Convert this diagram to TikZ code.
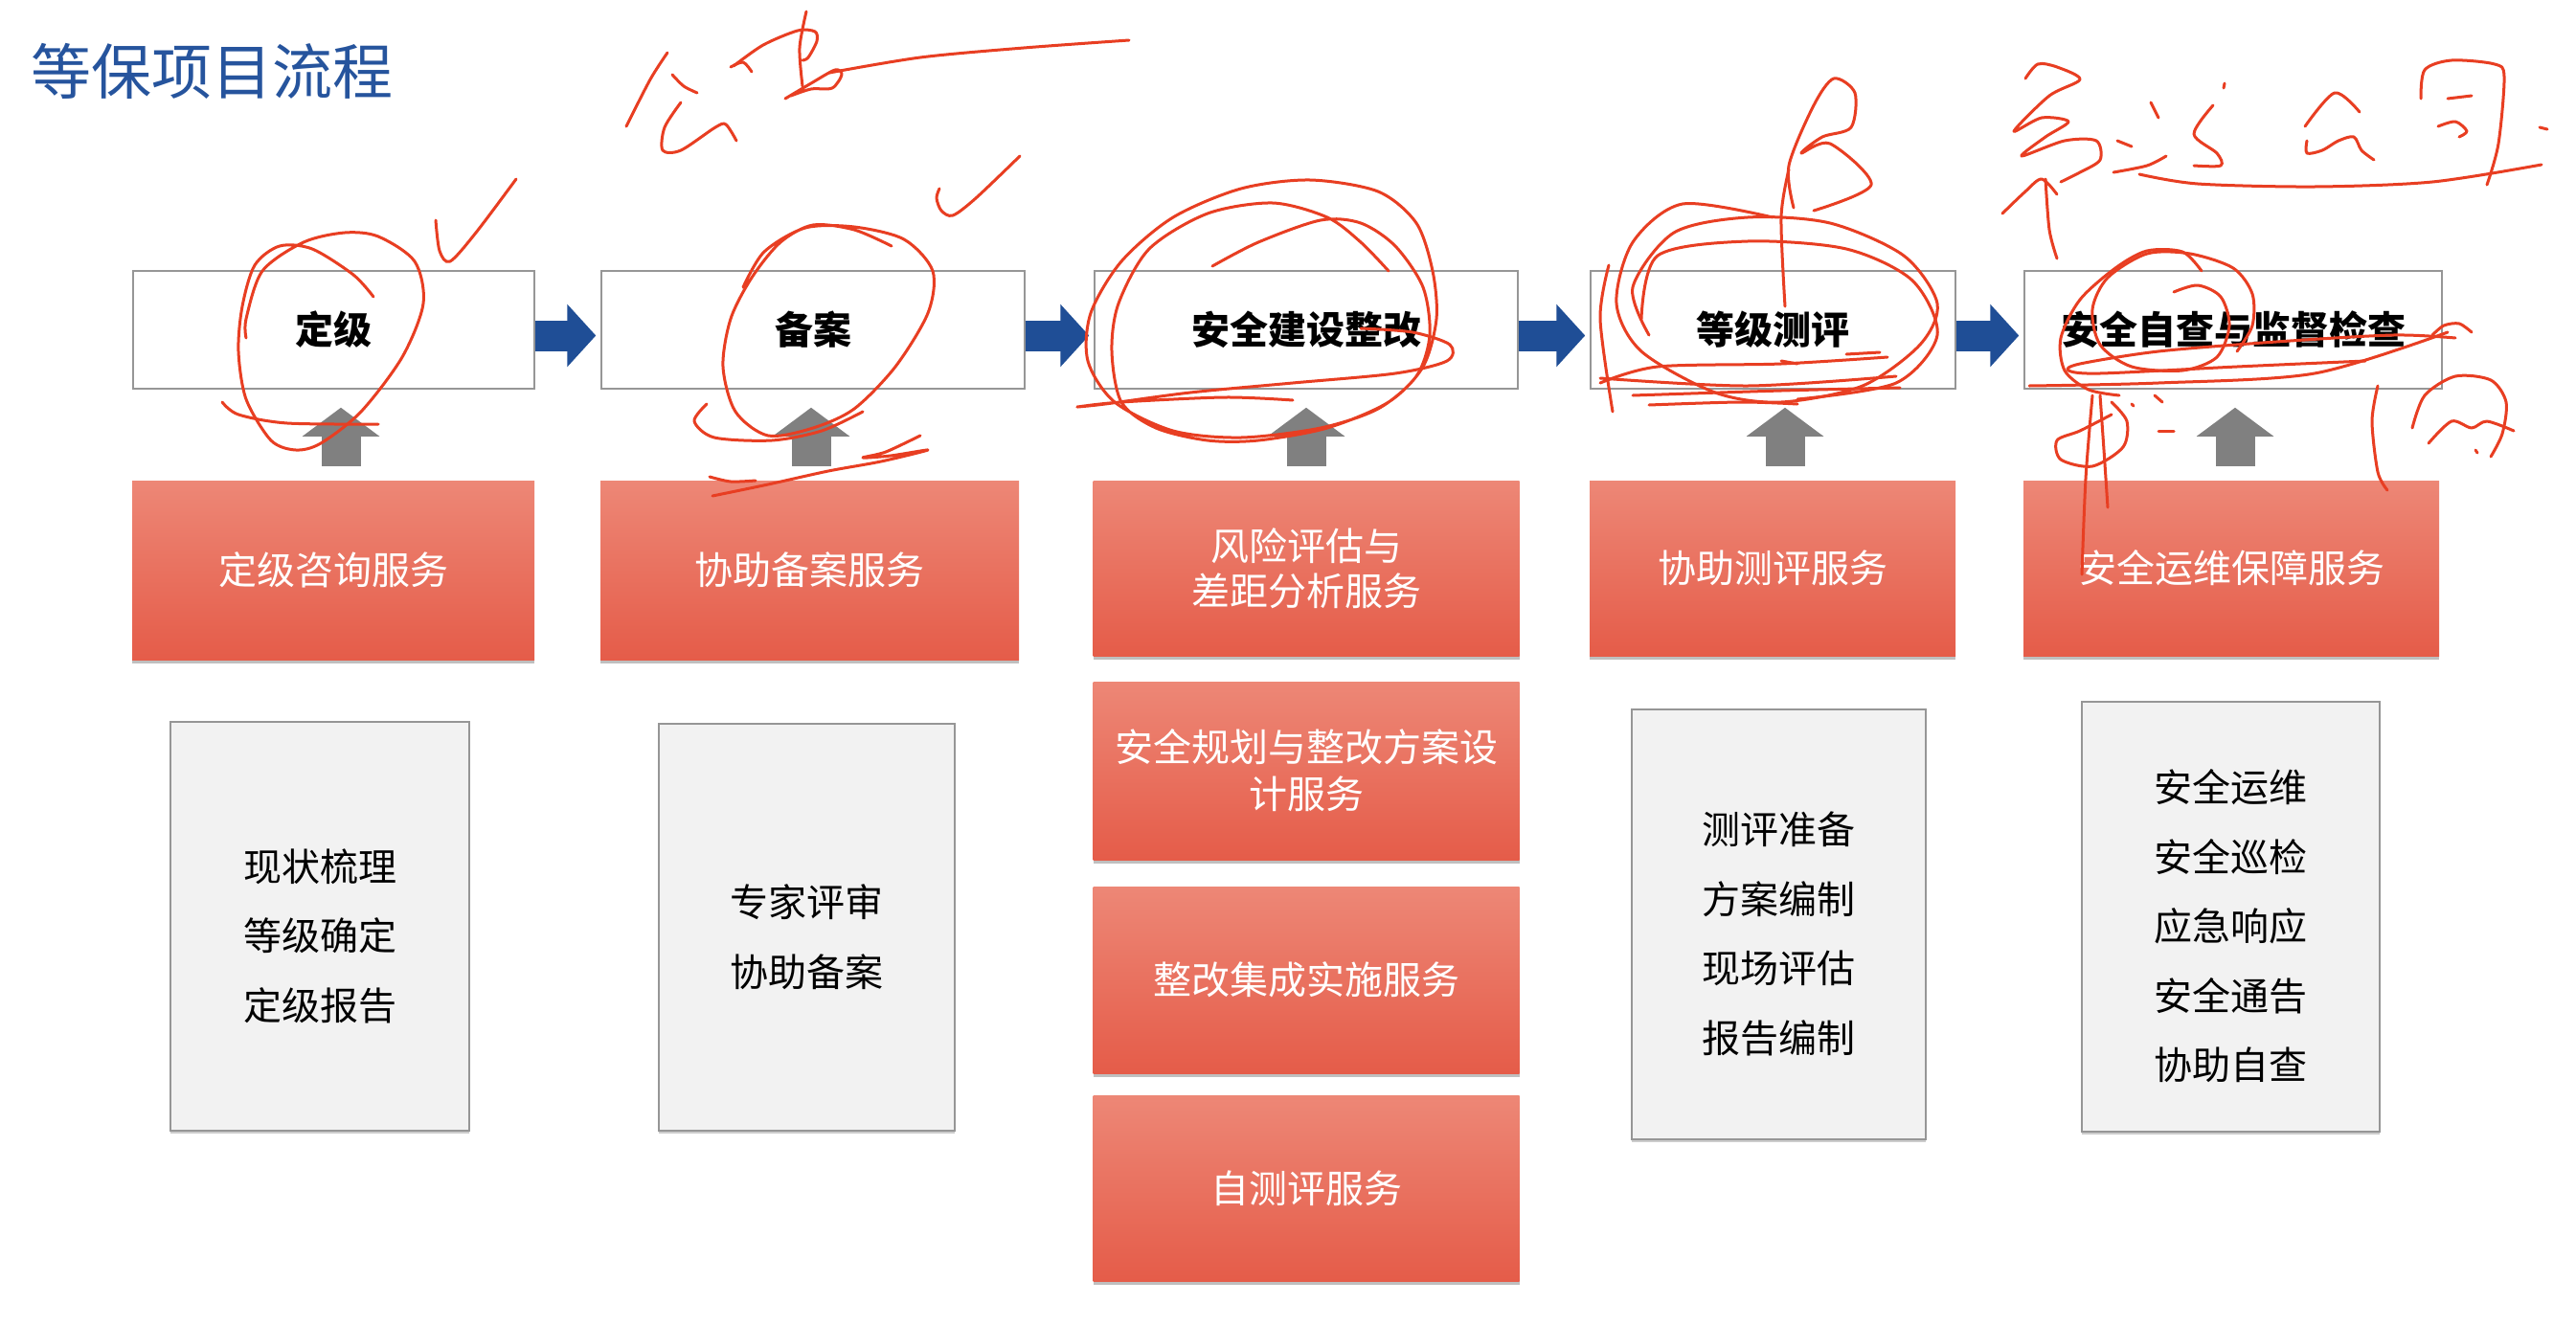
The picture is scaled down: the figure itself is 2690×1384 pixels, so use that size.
\documentclass[tikz,border=0pt]{standalone}
\usepackage{fontspec}
\newfontfamily\cjk{Noto Sans CJK SC}
\usetikzlibrary{arrows.meta,shadows}

\definecolor{titleblue}{RGB}{38,84,157}
\definecolor{flowblue}{RGB}{31,78,150}
\definecolor{upgray}{RGB}{128,128,128}
\definecolor{redtop}{RGB}{237,135,118}
\definecolor{redbot}{RGB}{229,92,73}
\definecolor{paleg}{RGB}{242,242,242}
\definecolor{edgeg}{RGB}{150,150,150}
\definecolor{inkred}{RGB}{232,62,34}

% strut that lowers a centred list a little inside its box
\newcommand{\listlead}{\rule{0pt}{54pt}}

\begin{document}
\begin{tikzpicture}[x=1pt,y=-1pt,
  titletext/.style={text=titleblue, font=\cjk\fontsize{63}{70}\selectfont, inner sep=0pt},
  stagebox/.style={draw=edgeg, line width=1.5pt, fill=white, inner sep=0pt,
    font=\cjk\bfseries\fontsize{40}{48}\selectfont},
  svcbox/.style={top color=redtop, bottom color=redbot, draw=none, text=white,
    align=center, inner sep=0pt, font=\cjk\fontsize{40}{48}\selectfont,
    drop shadow={shadow xshift=0pt, shadow yshift=-4pt, opacity=0.25, fill=black}},
  detailbox/.style={draw=edgeg, line width=1.5pt, fill=paleg, align=center, inner sep=0pt,
    font=\cjk\fontsize{40}{72.5}\selectfont,
    drop shadow={shadow xshift=0pt, shadow yshift=-3pt, opacity=0.2, fill=black}},
  flow/.style={draw=flowblue, line width=32pt, shorten >=5pt,
    -{Triangle[length=30pt,width=64pt]}},
  lift/.style={draw=upgray, line width=41pt, shorten <=15pt, shorten >=19pt,
    -{Triangle[length=30pt,width=79pt]}},
  ink/.style={draw=inkred, line width=3pt, line cap=round, line join=round}
]
\fill[white] (0,0) rectangle (2690,1384);
\useasboundingbox (0,0) rectangle (2690,1384);

% heading
\node[titletext, anchor=west] (title) at (32,74) {等保项目流程};

% stage row
\node[stagebox, minimum width=419pt, minimum height=123pt] (t1) at (348.5,344.5) {定级};
\node[stagebox, minimum width=442pt, minimum height=123pt] (t2) at (849,344.5) {备案};
\node[stagebox, minimum width=442pt, minimum height=123pt] (t3) at (1364,344.5) {安全建设整改};
\node[stagebox, minimum width=381pt, minimum height=123pt] (t4) at (1851.5,344.5) {等级测评};
\node[stagebox, minimum width=436pt, minimum height=123pt] (t5) at (2332,344.5) {安全自查与监督检查};

% flow arrows between stages
\draw[flow] ([yshift=-6pt]t1.east) -- ([yshift=-6pt]t2.west);
\draw[flow] ([yshift=-6pt]t2.east) -- ([yshift=-6pt]t3.west);
\draw[flow] ([yshift=-6pt]t3.east) -- ([yshift=-6pt]t4.west);
\draw[flow] ([yshift=-6pt]t4.east) -- ([yshift=-6pt]t5.west);

% service row
\node[svcbox, minimum width=420pt, minimum height=187pt] (r1) at (348,595.5) {定级咨询服务};
\node[svcbox, minimum width=437pt, minimum height=187pt] (r2) at (845.5,595.5) {协助备案服务};
\node[svcbox, minimum width=445pt, minimum height=183pt, font=\cjk\fontsize{40}{47}\selectfont] (r3) at (1364,593.5) {风险评估与\\差距分析服务};
\node[svcbox, minimum width=382pt, minimum height=183pt] (r4) at (1851,593.5) {协助测评服务};
\node[svcbox, minimum width=434pt, minimum height=183pt] (r5) at (2330,593.5) {安全运维保障服务};
\node[svcbox, minimum width=445pt, minimum height=186pt, font=\cjk\fontsize{40}{49}\selectfont] (r6) at (1364,805) {安全规划与整改方案设\\计服务};
\node[svcbox, minimum width=445pt, minimum height=195pt] (r7) at (1364,1023.5) {整改集成实施服务};
\node[svcbox, minimum width=445pt, minimum height=194pt] (r8) at (1364,1241) {自测评服务};

% lift arrows from services to stages
\draw[lift] ([xshift=8pt]r1.north) -- ([xshift=8pt]r1.north |- t1.south);
\draw[lift] ([xshift=1.5pt]r2.north) -- ([xshift=1.5pt]r2.north |- t2.south);
\draw[lift] (r3.north) -- (r3.north |- t3.south);
\draw[lift] ([xshift=13pt]r4.north) -- ([xshift=13pt]r4.north |- t4.south);
\draw[lift] ([xshift=4pt]r5.north) -- ([xshift=4pt]r5.north |- t5.south);

% detail lists
\node[detailbox, minimum width=312pt, minimum height=427pt] (g1) at (334,967.5) {\listlead 现状梳理\\等级确定\\定级报告};
\node[detailbox, minimum width=309pt, minimum height=425pt] (g2) at (842.5,968.5) {\listlead 专家评审\\协助备案};
\node[detailbox, minimum width=307pt, minimum height=449pt] (g3) at (1857.5,965.5) {\listlead 测评准备\\方案编制\\现场评估\\报告编制};
\node[detailbox, minimum width=311pt, minimum height=449pt] (g4) at (2329.5,957.5) {\listlead 安全运维\\安全巡检\\应急响应\\安全通告\\协助自查};

% ---- red pen marks ----
% ticks
\draw[ink] plot[smooth] coordinates {(455,230) (459,262) (470,273) (497,243) (539,187)};
\draw[ink] plot[smooth] coordinates {(981,197) (978,207) (983,220) (995,225) (1019,207) (1065,163)};

% ring round the first stage
\draw[ink] plot[smooth] coordinates {(390,310) (369,287) (326,260) (292,257) (266,277) (253,320) (249,367) (257,417) (283,460) (309,470) (335,463) (377,430) (420,373) (442,317) (433,273) (395,247) (360,243) (317,253) (274,283) (257,333) (257,353)};
\draw[ink] plot[smooth] coordinates {(232,420) (249,433) (300,442) (395,443)};

% ring round the second stage
\draw[ink] plot[smooth] coordinates {(931,257) (892,240) (849,235) (815,253) (785,290) (763,333) (755,383) (768,430) (802,455) (849,447) (892,427) (935,383) (969,327) (974,283) (944,250) (892,237) (841,238) (798,263) (776,300)};
\draw[ink] plot[smooth] coordinates {(738,422) (725,440) (746,457) (806,460) (858,450) (901,430)};
\draw[ink] plot[smooth] coordinates {(961,455) (925,472) (901,478) (930,476) (969,470) (920,482) (865,492) (802,506) (744,518)};
\draw[ink] plot[smooth] coordinates {(741,498) (763,503) (789,502)};

% handwriting near the top
\draw[ink] plot[smooth] coordinates {(697,55) (679,83) (654,132)};
\draw[ink] plot[smooth] coordinates {(702,78) (714,90) (728,97)};
\draw[ink] plot[smooth] coordinates {(711,107) (694,133) (692,157) (711,157) (747,133) (758,130) (769,147)};
\draw[ink] plot[smooth] coordinates {(763,70) (776,65) (785,75)};
\draw[ink] plot[smooth] coordinates {(766,69) (797,47) (833,32) (851,33) (853,43) (844,60) (838,63)};
\draw[ink] plot[smooth] coordinates {(842,12) (835,50) (838,90)};
\draw[ink] plot[smooth] coordinates {(820,103) (847,87) (872,73) (879,78) (869,92) (847,93) (826,100)};
\draw[ink] plot[smooth] coordinates {(866,76) (961,60) (1069,50) (1179,42)};

% rings round the third stage
\draw[ink] plot[smooth] coordinates {(1266,278) (1314,253) (1379,230) (1421,233) (1457,257) (1486,300) (1493,350) (1479,393) (1439,427) (1379,447) (1296,457) (1225,450) (1164,420) (1136,377) (1139,327) (1171,273) (1225,227) (1296,197) (1368,188) (1439,200) (1479,233) (1496,283) (1500,333) (1486,383) (1450,420) (1386,447) (1314,460) (1261,460) (1207,447) (1171,420) (1161,367) (1168,317) (1200,260) (1261,223) (1329,212) (1386,227) (1421,253) (1450,283)};
\draw[ink] plot[smooth] coordinates {(1421,343) (1475,347) (1514,360) (1511,377) (1457,390) (1350,400) (1243,410) (1154,422) (1125,425) (1171,420) (1279,415) (1350,418)};

% rings round the fourth stage
\draw[ink] plot[smooth] coordinates {(1851,227) (1757,213) (1705,253) (1688,317) (1714,367) (1791,410) (1860,420) (1945,403) (2005,360) (2023,317) (1988,267) (1911,233) (1825,227) (1748,243) (1705,300) (1722,350)};
\draw[ink] plot[smooth] coordinates {(1714,333) (1731,267) (1825,252) (1928,260) (1997,293) (2023,350) (1980,400) (1877,417)};
\draw[ink] plot[smooth] coordinates {(1864,320) (1860,227) (1868,177)};
\draw[ink] plot[smooth] coordinates {(1873,217) (1868,173) (1894,110) (1915,82) (1937,97) (1933,133) (1903,143) (1881,160) (1911,150) (1954,193) (1894,220)};
\draw[ink] plot[smooth] coordinates {(1680,277) (1671,333) (1684,430)};
\draw[ink] plot[smooth] coordinates {(1671,400) (1731,383) (1860,380) (1971,373)};
\draw[ink] plot[smooth] coordinates {(1671,395) (1825,403) (1980,393)};
\draw[ink] plot[smooth] coordinates {(1705,413) (1860,408) (1984,405)};
\draw[ink] plot[smooth] coordinates {(1722,423) (1817,420) (1877,422)};
\draw[ink] plot[smooth] coordinates {(1860,377) (1877,380)};
\draw[ink] plot[smooth] coordinates {(1928,370) (1963,368)};

% handwriting at the top right
\draw[ink] plot[smooth] coordinates {(2115,82) (2128,67) (2148,70) (2172,83) (2140,100) (2103,137) (2132,123) (2160,127) (2136,143) (2111,163) (2156,147) (2189,147) (2193,167) (2172,180) (2152,190)};
\draw[ink] plot[smooth] coordinates {(2091,223) (2115,200) (2132,187) (2148,203)};
\draw[ink] plot[smooth] coordinates {(2136,187) (2140,240) (2148,270)};
\draw[ink] plot[smooth] coordinates {(2211,147) (2226,153)};
\draw[ink] plot[smooth] coordinates {(2246,107) (2254,123)};
\draw[ink] plot[smooth] coordinates {(2207,180) (2242,173) (2262,163)};
\draw[ink] plot[smooth] coordinates {(2323,87) (2322,92)};
\draw[ink] plot[smooth] coordinates {(2311,110) (2291,140) (2315,160) (2319,173) (2291,173)};
\draw[ink] plot[smooth] coordinates {(2407,132) (2438,97) (2464,117)};
\draw[ink] plot[smooth] coordinates {(2409,147) (2409,160) (2425,157) (2442,147) (2458,143) (2466,157) (2479,167)};
\draw[ink] plot[smooth] coordinates {(2528,103) (2532,73) (2560,63) (2605,67) (2615,80) (2609,150) (2597,193)};
\draw[ink] plot[smooth] coordinates {(2556,103) (2581,100)};
\draw[ink] plot[smooth] coordinates {(2546,132) (2564,127) (2576,137) (2568,143)};
\draw[ink] plot[smooth] coordinates {(2234,182) (2295,192) (2417,195) (2540,190) (2654,172)};
\draw[ink] plot[smooth] coordinates {(2652,133) (2660,135)};

% rings round the fifth stage
\draw[ink] plot[smooth] coordinates {(2270,305) (2295,298) (2319,310) (2328,340) (2315,373) (2279,387) (2226,383) (2193,360) (2185,323) (2201,290) (2242,265) (2287,265) (2332,280) (2352,307) (2352,340) (2336,367)};
\draw[ink] plot[smooth] coordinates {(2299,283) (2279,263) (2242,262) (2209,280) (2172,313) (2152,353) (2156,387) (2181,407) (2213,413)};
\draw[ink] plot[smooth] coordinates {(2564,353) (2499,350) (2377,357) (2254,367) (2172,380) (2160,387) (2193,390) (2336,383) (2470,377)};
\draw[ink] plot[smooth] coordinates {(2119,403) (2254,400) (2417,390) (2556,347)};
\draw[ink] plot[smooth] coordinates {(2540,350) (2552,340) (2568,338) (2581,347)};
\draw[ink] plot[smooth] coordinates {(2185,413) (2178,500) (2174,600)};
\draw[ink] plot[smooth] coordinates {(2193,413) (2197,470) (2201,530)};
\draw[ink] plot[smooth] coordinates {(2205,420) (2221,440) (2217,467) (2185,487) (2152,480) (2148,460) (2172,450) (2205,433)};
\draw[ink] plot[smooth] coordinates {(2226,422) (2228,424)};
\draw[ink] plot[smooth] coordinates {(2250,413) (2258,420)};
\draw[ink] plot[smooth] coordinates {(2254,450) (2270,450)};
\draw[ink] plot[smooth] coordinates {(2483,403) (2477,440) (2483,493) (2493,512)};
\draw[ink] plot[smooth] coordinates {(2519,447) (2532,413) (2564,393) (2601,397) (2617,420) (2613,453) (2601,477)};
\draw[ink] plot[smooth] coordinates {(2536,463) (2560,440) (2581,447) (2597,440) (2625,450)};
\draw[ink] plot[smooth] coordinates {(2585,470) (2587,473)};
\end{tikzpicture}
\end{document}
